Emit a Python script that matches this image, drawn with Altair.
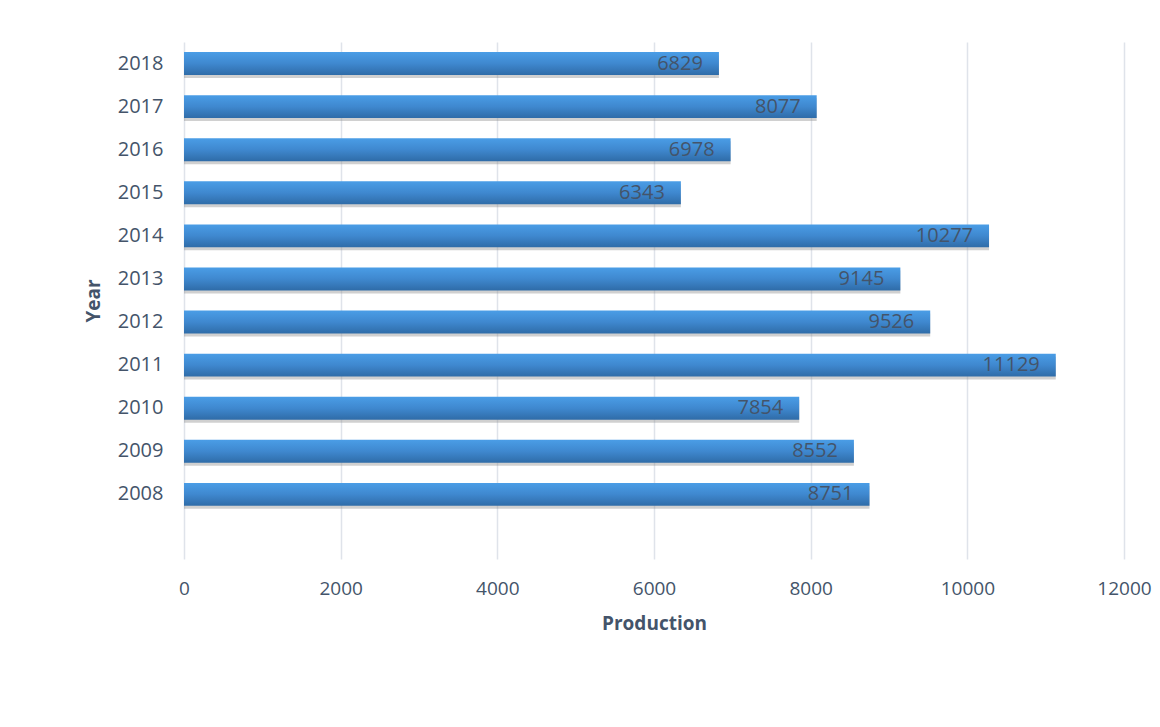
import altair as alt
import pandas as pd

years = ["2018", "2017", "2016", "2015", "2014", "2013", "2012", "2011", "2010", "2009", "2008"]
production = [6829, 8077, 6978, 6343, 10277, 9145, 9526, 11129, 7854, 8552, 8751]
x_ticks = [0, 2000, 4000, 6000, 8000, 10000, 12000]

df = pd.DataFrame({"Year": years, "Production": production})
y_domain = years + [" "]

FONT = "Open Sans"
TXT = "#44546A"

y_enc = alt.Y(
    "Year:N",
    scale=alt.Scale(domain=y_domain, paddingInner=0.47, paddingOuter=0.235),
    axis=alt.Axis(
        title="Year", labelFontSize=20, labelFont=FONT, labelColor=TXT, labelPadding=21,
        titleFont=FONT, titleFontSize=19, titleFontWeight="bold", titleColor=TXT,
        titlePadding=14, ticks=False, domain=False, grid=False,
    ),
)
x_enc = alt.X(
    "Production:Q",
    scale=alt.Scale(domain=[0, 12000], nice=False),
    axis=alt.Axis(
        values=x_ticks, title="Production", labelFontSize=19, labelFont=FONT, labelColor=TXT,
        labelPadding=20, labelFlush=False, titleFont=FONT, titleFontSize=19,
        titleFontWeight="bold", titleColor=TXT, titlePadding=16, ticks=False,
        domain=False, grid=True, gridColor="#DFE3EA", gridWidth=1.5, format="d",
    ),
)

shadow = alt.Chart(df).mark_bar(color="#8a8a8a", opacity=0.4, yOffset=3, x2Offset=3).encode(
    x=x_enc, y=y_enc
)

grad = alt.Gradient(
    gradient="linear", x1=0, y1=0, x2=0, y2=1,
    stops=[alt.GradientStop(color="#4A9DE6", offset=0),
           alt.GradientStop(color="#3F88CF", offset=0.5),
           alt.GradientStop(color="#2F6CA8", offset=1)],
)
bars = alt.Chart(df).mark_bar(color=grad).encode(x=x_enc, y=y_enc)

labels = alt.Chart(df).mark_text(
    align="right", baseline="middle", dx=-16, font=FONT, fontSize=20, color=TXT
).encode(x=x_enc, y=y_enc, text=alt.Text("Production:Q", format="d"))

chart = (
    alt.layer(shadow, bars, labels)
    .properties(width=940, height=517, autosize="none", background="white",
                padding={"left": 176, "top": 34, "right": 28, "bottom": 160})
    .configure_view(stroke="transparent", strokeWidth=0)
)

chart.save("out.html", embed_options={"renderer": "svg", "actions": False})
